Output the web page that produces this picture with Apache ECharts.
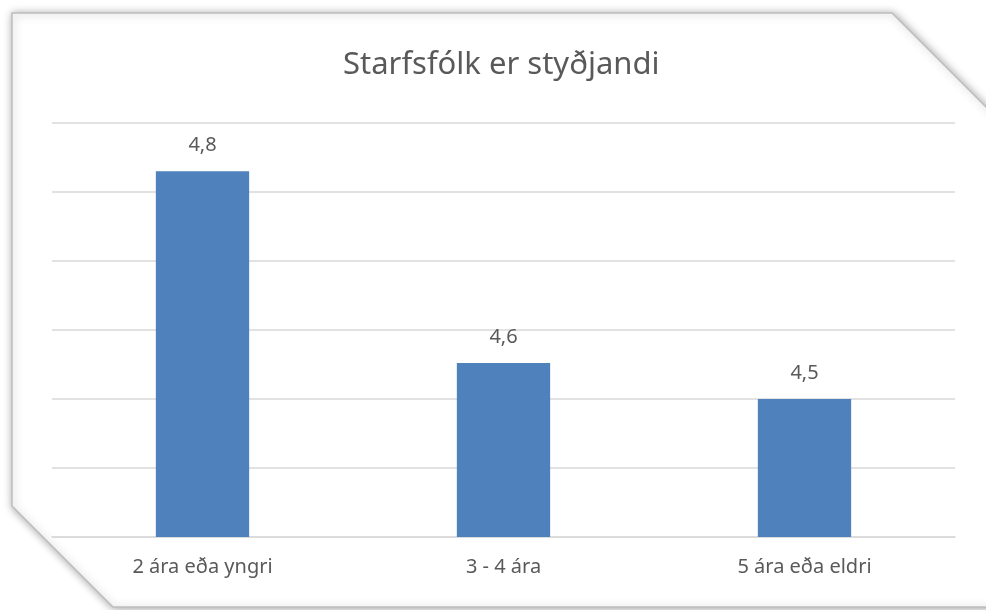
<!DOCTYPE html>
<html>
<head>
<meta charset="utf-8">
<script src="https://cdn.jsdelivr.net/npm/echarts@6/dist/echarts.min.js"></script>
<style>
  html, body { margin: 0; padding: 0; background: #fff; }
  #chart { width: 986px; height: 610px; }
</style>
</head>
<body>
<div id="chart"></div>
<script>
const chartTitle = 'Starfsfólk er styðjandi'
const categories = ['2 ára eða yngri', '3 - 4 ára', '5 ára eða eldri']
const values = [4.83, 4.552, 4.5]

const fontFamily = 'Noto Sans, sans-serif'
const chart = echarts.init(document.getElementById('chart'))

chart.setOption({
  animation: false,
  backgroundColor: '#fff',
  graphic: [
    {
      type: 'polygon',
      z: -10,
      silent: true,
      shape: {
        points: [[12, 13], [892, 13], [1000, 121], [1000, 607], [113, 607], [12, 506]]
      },
      style: {
        fill: '#fff',
        stroke: '#bdbdbd',
        lineWidth: 1.5,
        shadowBlur: 8,
        shadowColor: 'rgba(0,0,0,0.35)',
        shadowOffsetX: 1,
        shadowOffsetY: 1
      }
    }
  ],
  title: {
    text: chartTitle,
    left: 343,
    top: 50,
    padding: 0,
    textStyle: {
      fontFamily: fontFamily,
      fontSize: 31,
      fontWeight: 'normal',
      color: '#595959'
    }
  },
  grid: {
    left: 52,
    right: 31,
    top: 123,
    bottom: 73,
    containLabel: false
  },
  xAxis: {
    type: 'category',
    data: categories,
    axisTick: { show: false },
    axisLine: { lineStyle: { color: '#d9d9d9', width: 1.5 } },
    axisLabel: {
      fontFamily: fontFamily,
      fontSize: 20,
      color: '#595959',
      margin: 20
    }
  },
  yAxis: {
    type: 'value',
    min: 4.3,
    max: 4.9,
    interval: 0.1,
    axisLabel: { show: false },
    axisLine: { show: false },
    axisTick: { show: false },
    splitLine: { lineStyle: { color: '#d9d9d9', width: 1.5 } }
  },
  series: [
    {
      type: 'bar',
      data: values,
      barWidth: '31%',
      itemStyle: { color: '#4f81bd' },
      label: {
        show: true,
        position: 'top',
        distance: 16,
        fontFamily: fontFamily,
        fontSize: 20,
        color: '#595959',
        formatter: (p) => p.value.toFixed(1).replace('.', ',')
      }
    }
  ]
})
</script>
</body>
</html>
